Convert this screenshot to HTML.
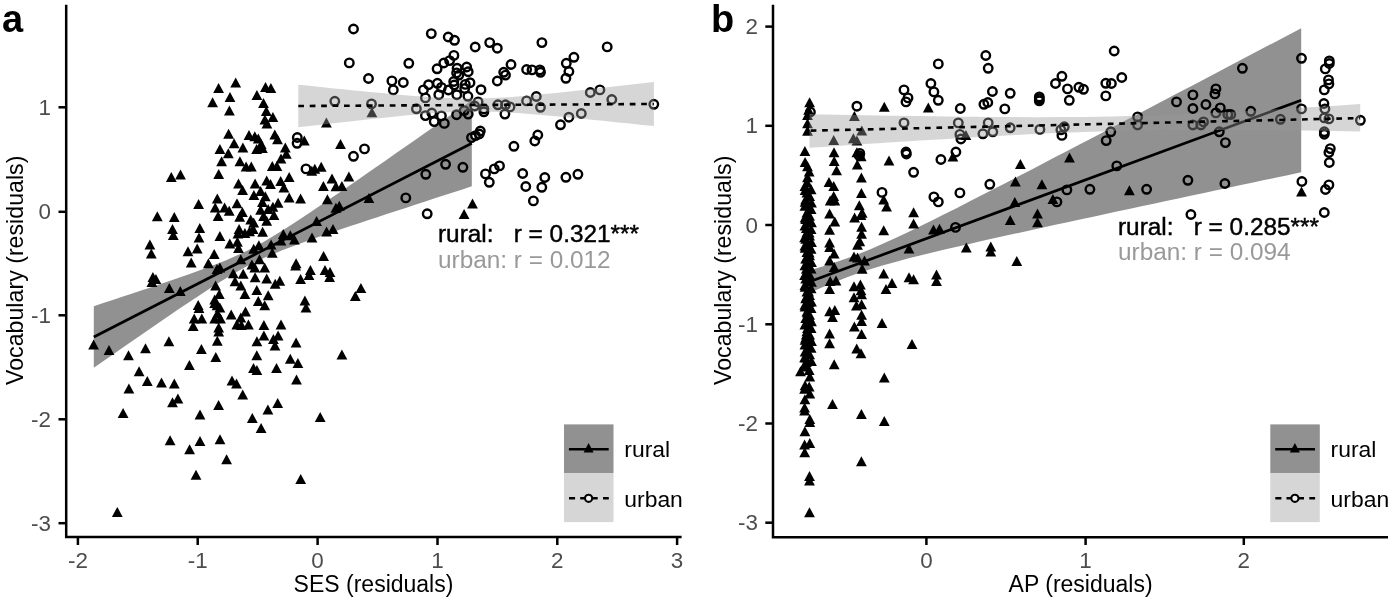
<!DOCTYPE html>
<html><head><meta charset="utf-8"><title>Figure</title>
<style>
html,body{margin:0;padding:0;background:#fff;}
body{width:1393px;height:601px;overflow:hidden;}
svg{display:block;}
text{font-family:"Liberation Sans", sans-serif;white-space:pre;}
svg{will-change:transform;}
.tk{font-size:22.4px;fill:#4d4d4d;}
.ti{font-size:23px;fill:#000;}
.lg{font-size:22.9px;fill:#000;}
.an{font-size:24.35px;}
.pl{font-size:38px;font-weight:bold;fill:#000;}
.ax{stroke:#000;stroke-width:2.5;fill:none;}
</style></head><body>
<svg width="1393" height="601" viewBox="0 0 1393 601">
<rect width="1393" height="601" fill="#fff"/>

<g id="panelA">
<g fill="#000"><path d="M171.3 172.0L176.7 182.0L165.9 182.0Z"/><path d="M180.5 169.4L185.9 179.4L175.1 179.4Z"/><path d="M198.6 198.9L204.0 208.9L193.2 208.9Z"/><path d="M157.3 211.3L162.7 221.3L151.9 221.3Z"/><path d="M174.3 211.9L179.7 221.9L168.9 221.9Z"/><path d="M172.5 223.9L177.9 233.9L167.1 233.9Z"/><path d="M173.3 229.9L178.7 239.9L167.9 239.9Z"/><path d="M199.8 222.9L205.2 232.9L194.4 232.9Z"/><path d="M199.0 232.5L204.4 242.5L193.6 242.5Z"/><path d="M149.9 239.5L155.3 249.5L144.5 249.5Z"/><path d="M151.3 248.5L156.7 258.5L145.9 258.5Z"/><path d="M197.2 243.5L202.6 253.5L191.8 253.5Z"/><path d="M188.0 246.3L193.4 256.3L182.6 256.3Z"/><path d="M191.2 257.5L196.6 267.5L185.8 267.5Z"/><path d="M208.4 258.3L213.8 268.3L203.0 268.3Z"/><path d="M214.2 248.9L219.6 258.9L208.8 258.9Z"/><path d="M152.9 272.0L158.3 282.0L147.5 282.0Z"/><path d="M155.9 274.0L161.3 284.0L150.5 284.0Z"/><path d="M151.9 277.0L157.3 287.0L146.5 287.0Z"/><path d="M169.3 283.0L174.7 293.0L163.9 293.0Z"/><path d="M180.3 286.0L185.7 296.0L174.9 296.0Z"/><path d="M198.2 299.9L203.6 309.9L192.8 309.9Z"/><path d="M199.0 302.9L204.4 312.9L193.6 312.9Z"/><path d="M194.2 313.5L199.6 323.5L188.8 323.5Z"/><path d="M201.8 313.5L207.2 323.5L196.4 323.5Z"/><path d="M193.2 320.9L198.6 330.9L187.8 330.9Z"/><path d="M93.6 339.5L99.0 349.5L88.2 349.5Z"/><path d="M109.0 344.9L114.4 354.9L103.6 354.9Z"/><path d="M128.5 350.3L133.9 360.3L123.1 360.3Z"/><path d="M145.5 343.3L150.9 353.3L140.1 353.3Z"/><path d="M168.9 336.3L174.3 346.3L163.5 346.3Z"/><path d="M201.4 343.9L206.8 353.9L196.0 353.9Z"/><path d="M189.4 359.9L194.8 369.9L184.0 369.9Z"/><path d="M139.1 366.2L144.5 376.2L133.7 376.2Z"/><path d="M147.3 376.0L152.7 386.0L141.9 386.0Z"/><path d="M161.5 377.6L166.9 387.6L156.1 387.6Z"/><path d="M174.3 378.6L179.7 388.6L168.9 388.6Z"/><path d="M128.9 383.6L134.3 393.6L123.5 393.6Z"/><path d="M177.9 393.5L183.3 403.5L172.5 403.5Z"/><path d="M172.5 397.3L177.9 407.3L167.1 407.3Z"/><path d="M123.1 407.9L128.5 417.9L117.7 417.9Z"/><path d="M200.0 409.5L205.4 419.5L194.6 419.5Z"/><path d="M170.1 435.3L175.5 445.3L164.7 445.3Z"/><path d="M200.0 435.9L205.4 445.9L194.6 445.9Z"/><path d="M189.6 444.3L195.0 454.3L184.2 454.3Z"/><path d="M196.0 469.8L201.4 479.8L190.6 479.8Z"/><path d="M117.3 506.9L122.7 516.9L111.9 516.9Z"/><path d="M218.6 83.0L224.0 93.0L213.2 93.0Z"/><path d="M235.7 77.4L241.1 87.4L230.3 87.4Z"/><path d="M212.6 97.3L218.0 107.3L207.2 107.3Z"/><path d="M230.0 91.9L235.4 101.9L224.6 101.9Z"/><path d="M229.4 105.5L234.8 115.5L224.0 115.5Z"/><path d="M265.5 82.0L270.9 92.0L260.1 92.0Z"/><path d="M270.9 83.0L276.3 93.0L265.5 93.0Z"/><path d="M256.9 90.0L262.3 100.0L251.5 100.0Z"/><path d="M263.5 97.9L268.9 107.9L258.1 107.9Z"/><path d="M266.3 105.9L271.7 115.9L260.9 115.9Z"/><path d="M272.9 111.9L278.3 121.9L267.5 121.9Z"/><path d="M264.9 114.5L270.3 124.5L259.5 124.5Z"/><path d="M266.9 118.5L272.3 128.5L261.5 128.5Z"/><path d="M314.8 163.8L320.2 173.8L309.4 173.8Z"/><path d="M321.2 161.8L326.6 171.8L315.8 171.8Z"/><path d="M311.8 165.8L317.2 175.8L306.4 175.8Z"/><path d="M326.4 117.5L331.8 127.5L321.0 127.5Z"/><path d="M228.6 128.7L234.0 138.7L223.2 138.7Z"/><path d="M234.1 138.3L239.5 148.3L228.7 148.3Z"/><path d="M219.9 144.1L225.3 154.1L214.5 154.1Z"/><path d="M228.3 148.2L233.7 158.2L222.9 158.2Z"/><path d="M221.6 156.3L227.0 166.3L216.2 166.3Z"/><path d="M218.7 169.1L224.1 179.1L213.3 179.1Z"/><path d="M242.9 142.6L248.3 152.6L237.5 152.6Z"/><path d="M249.0 130.1L254.4 140.1L243.6 140.1Z"/><path d="M254.8 131.3L260.2 141.3L249.4 141.3Z"/><path d="M258.3 133.6L263.7 143.6L252.9 143.6Z"/><path d="M261.2 138.9L266.6 148.9L255.8 148.9Z"/><path d="M256.6 144.1L262.0 154.1L251.2 154.1Z"/><path d="M262.4 142.9L267.8 152.9L257.0 152.9Z"/><path d="M239.9 156.3L245.3 166.3L234.5 166.3Z"/><path d="M246.1 161.6L251.5 171.6L240.7 171.6Z"/><path d="M251.3 161.6L256.7 171.6L245.9 171.6Z"/><path d="M274.8 129.6L280.2 139.6L269.4 139.6Z"/><path d="M277.5 134.2L282.9 144.2L272.1 144.2Z"/><path d="M285.3 142.4L290.7 152.4L279.9 152.4Z"/><path d="M286.3 148.8L291.7 158.8L280.9 158.8Z"/><path d="M281.0 153.4L286.4 163.4L275.6 163.4Z"/><path d="M272.3 161.0L277.7 171.0L266.9 171.0Z"/><path d="M276.9 161.0L282.3 171.0L271.5 171.0Z"/><path d="M238.5 178.4L243.9 188.4L233.1 188.4Z"/><path d="M255.1 178.4L260.5 188.4L249.7 188.4Z"/><path d="M266.7 175.5L272.1 185.5L261.3 185.5Z"/><path d="M270.5 179.0L275.9 189.0L265.1 189.0Z"/><path d="M280.7 176.1L286.1 186.1L275.3 186.1Z"/><path d="M289.2 172.0L294.6 182.0L283.8 182.0Z"/><path d="M304.3 135.4L309.7 145.4L298.9 145.4Z"/><path d="M283.9 182.6L289.3 192.6L278.5 192.6Z"/><path d="M242.6 184.9L248.0 194.9L237.2 194.9Z"/><path d="M253.9 190.1L259.3 200.1L248.5 200.1Z"/><path d="M260.6 186.1L266.0 196.1L255.2 196.1Z"/><path d="M265.3 191.3L270.7 201.3L259.9 201.3Z"/><path d="M289.2 192.5L294.6 202.5L283.8 202.5Z"/><path d="M300.6 193.6L306.0 203.6L295.2 203.6Z"/><path d="M217.3 193.6L222.7 203.6L211.9 203.6Z"/><path d="M215.2 202.4L220.6 212.4L209.8 212.4Z"/><path d="M224.6 202.4L230.0 212.4L219.2 212.4Z"/><path d="M229.2 205.8L234.6 215.8L223.8 215.8Z"/><path d="M218.1 211.1L223.5 221.1L212.7 221.1Z"/><path d="M237.0 198.3L242.4 208.3L231.6 208.3Z"/><path d="M242.4 207.0L247.8 217.0L237.0 217.0Z"/><path d="M239.7 211.7L245.1 221.7L234.3 221.7Z"/><path d="M262.4 197.1L267.8 207.1L257.0 207.1Z"/><path d="M278.1 197.7L283.5 207.7L272.7 207.7Z"/><path d="M272.9 201.8L278.3 211.8L267.5 211.8Z"/><path d="M260.6 204.7L266.0 214.7L255.2 214.7Z"/><path d="M268.2 204.1L273.6 214.1L262.8 214.1Z"/><path d="M274.0 209.9L279.4 219.9L268.6 219.9Z"/><path d="M263.6 211.1L269.0 221.1L258.2 221.1Z"/><path d="M266.7 215.7L272.1 225.7L261.3 225.7Z"/><path d="M250.7 214.6L256.1 224.6L245.3 224.6Z"/><path d="M253.7 217.5L259.1 227.5L248.3 227.5Z"/><path d="M239.1 223.9L244.5 233.9L233.7 233.9Z"/><path d="M237.9 228.6L243.3 238.6L232.5 238.6Z"/><path d="M244.9 228.0L250.3 238.0L239.5 238.0Z"/><path d="M249.6 226.2L255.0 236.2L244.2 236.2Z"/><path d="M253.1 223.9L258.5 233.9L247.7 233.9Z"/><path d="M262.6 226.8L268.0 236.8L257.2 236.8Z"/><path d="M219.9 230.9L225.3 240.9L214.5 240.9Z"/><path d="M229.8 238.4L235.2 248.4L224.4 248.4Z"/><path d="M237.4 236.7L242.8 246.7L232.0 246.7Z"/><path d="M283.3 229.1L288.7 239.1L277.9 239.1Z"/><path d="M290.3 230.3L295.7 240.3L284.9 240.3Z"/><path d="M294.4 234.4L299.8 244.4L289.0 244.4Z"/><path d="M281.0 235.5L286.4 245.5L275.6 245.5Z"/><path d="M271.1 239.6L276.5 249.6L265.7 249.6Z"/><path d="M258.9 240.2L264.3 250.2L253.5 250.2Z"/><path d="M238.5 243.1L243.9 253.1L233.1 253.1Z"/><path d="M253.7 243.7L259.1 253.7L248.3 253.7Z"/><path d="M272.3 247.8L277.7 257.8L266.9 257.8Z"/><path d="M240.8 254.2L246.2 264.2L235.4 264.2Z"/><path d="M259.5 254.2L264.9 264.2L254.1 264.2Z"/><path d="M251.9 259.4L257.3 269.4L246.5 269.4Z"/><path d="M254.8 262.4L260.2 272.4L249.4 272.4Z"/><path d="M264.7 262.4L270.1 272.4L259.3 272.4Z"/><path d="M217.0 264.1L222.4 274.1L211.6 274.1Z"/><path d="M219.9 262.4L225.3 272.4L214.5 272.4Z"/><path d="M233.3 268.2L238.7 278.2L227.9 278.2Z"/><path d="M243.2 268.8L248.6 278.8L237.8 278.8Z"/><path d="M255.1 272.3L260.5 282.3L249.7 282.3Z"/><path d="M266.7 273.4L272.1 283.4L261.3 283.4Z"/><path d="M235.0 276.3L240.4 286.3L229.6 286.3Z"/><path d="M240.8 280.4L246.2 290.4L235.4 290.4Z"/><path d="M296.1 258.3L301.5 268.3L290.7 268.3Z"/><path d="M295.6 260.6L301.0 270.6L290.2 270.6Z"/><path d="M300.6 274.0L306.0 284.0L295.2 284.0Z"/><path d="M275.2 278.7L280.6 288.7L269.8 288.7Z"/><path d="M279.8 275.7L285.2 285.7L274.4 285.7Z"/><path d="M215.6 280.4L221.0 290.4L210.2 290.4Z"/><path d="M219.3 289.1L224.7 299.1L213.9 299.1Z"/><path d="M214.7 294.4L220.1 304.4L209.3 304.4Z"/><path d="M217.0 300.2L222.4 310.2L211.6 310.2Z"/><path d="M256.8 285.1L262.2 295.1L251.4 295.1Z"/><path d="M244.9 289.1L250.3 299.1L239.5 299.1Z"/><path d="M268.2 290.3L273.6 300.3L262.8 300.3Z"/><path d="M258.3 296.1L263.7 306.1L252.9 306.1Z"/><path d="M264.7 300.2L270.1 310.2L259.3 310.2Z"/><path d="M304.9 295.5L310.3 305.5L299.5 305.5Z"/><path d="M306.0 302.6L311.4 312.6L300.6 312.6Z"/><path d="M214.7 297.9L220.1 307.9L209.3 307.9Z"/><path d="M219.9 302.6L225.3 312.6L214.5 312.6Z"/><path d="M217.6 308.4L223.0 318.4L212.2 318.4Z"/><path d="M214.7 313.6L220.1 323.6L209.3 323.6Z"/><path d="M220.5 313.6L225.9 323.6L215.1 323.6Z"/><path d="M231.2 309.6L236.6 319.6L225.8 319.6Z"/><path d="M245.5 306.6L250.9 316.6L240.1 316.6Z"/><path d="M240.8 312.5L246.2 322.5L235.4 322.5Z"/><path d="M236.8 319.4L242.2 329.4L231.4 329.4Z"/><path d="M241.4 320.0L246.8 330.0L236.0 330.0Z"/><path d="M248.4 319.4L253.8 329.4L243.0 329.4Z"/><path d="M218.7 322.4L224.1 332.4L213.3 332.4Z"/><path d="M218.7 326.4L224.1 336.4L213.3 336.4Z"/><path d="M263.9 320.0L269.3 330.0L258.5 330.0Z"/><path d="M281.0 319.4L286.4 329.4L275.6 329.4Z"/><path d="M263.9 330.5L269.3 340.5L258.5 340.5Z"/><path d="M278.1 330.5L283.5 340.5L272.7 340.5Z"/><path d="M273.4 334.0L278.8 344.0L268.0 344.0Z"/><path d="M256.9 336.3L262.3 346.3L251.5 346.3Z"/><path d="M275.0 340.4L280.4 350.4L269.6 350.4Z"/><path d="M217.3 335.7L222.7 345.7L211.9 345.7Z"/><path d="M296.1 337.5L301.5 347.5L290.7 347.5Z"/><path d="M215.8 352.0L221.2 362.0L210.4 362.0Z"/><path d="M256.8 350.3L262.2 360.3L251.4 360.3Z"/><path d="M290.3 353.8L295.7 363.8L284.9 363.8Z"/><path d="M297.9 357.9L303.3 367.9L292.5 367.9Z"/><path d="M253.5 363.0L258.9 373.0L248.1 373.0Z"/><path d="M256.9 365.0L262.3 375.0L251.5 375.0Z"/><path d="M276.5 363.0L281.9 373.0L271.1 373.0Z"/><path d="M296.5 374.4L301.9 384.4L291.1 384.4Z"/><path d="M232.0 375.6L237.4 385.6L226.6 385.6Z"/><path d="M236.5 378.6L241.9 388.6L231.1 388.6Z"/><path d="M242.7 389.4L248.1 399.4L237.3 399.4Z"/><path d="M218.6 399.9L224.0 409.9L213.2 409.9Z"/><path d="M277.7 397.9L283.1 407.9L272.3 407.9Z"/><path d="M267.9 404.5L273.3 414.5L262.5 414.5Z"/><path d="M252.3 412.9L257.7 422.9L246.9 422.9Z"/><path d="M261.1 422.9L266.5 432.9L255.7 432.9Z"/><path d="M320.2 411.9L325.6 421.9L314.8 421.9Z"/><path d="M220.0 434.3L225.4 444.3L214.6 444.3Z"/><path d="M226.6 454.3L232.0 464.3L221.2 464.3Z"/><path d="M300.7 473.9L306.1 483.9L295.3 483.9Z"/><path d="M371.9 107.2L377.3 117.2L366.5 117.2Z"/><path d="M340.5 138.9L345.9 148.9L335.1 148.9Z"/><path d="M332.0 173.5L337.4 183.5L326.6 183.5Z"/><path d="M348.9 171.5L354.3 181.5L343.5 181.5Z"/><path d="M323.4 180.9L328.8 190.9L318.0 190.9Z"/><path d="M335.9 181.3L341.3 191.3L330.5 191.3Z"/><path d="M341.9 180.9L347.3 190.9L336.5 190.9Z"/><path d="M327.4 194.3L332.8 204.3L322.0 204.3Z"/><path d="M368.9 192.9L374.3 202.9L363.5 202.9Z"/><path d="M335.9 202.8L341.3 212.8L330.5 212.8Z"/><path d="M339.3 200.8L344.7 210.8L333.9 210.8Z"/><path d="M316.6 216.0L322.0 226.0L311.2 226.0Z"/><path d="M326.6 226.6L332.0 236.6L321.2 236.6Z"/><path d="M333.0 224.0L338.4 234.0L327.6 234.0Z"/><path d="M312.0 232.5L317.4 242.5L306.6 242.5Z"/><path d="M323.6 250.9L329.0 260.9L318.2 260.9Z"/><path d="M310.4 264.9L315.8 274.9L305.0 274.9Z"/><path d="M309.0 269.9L314.4 279.9L303.6 279.9Z"/><path d="M325.0 264.9L330.4 274.9L319.6 274.9Z"/><path d="M330.0 266.9L335.4 276.9L324.6 276.9Z"/><path d="M329.6 271.9L335.0 281.9L324.2 281.9Z"/><path d="M360.9 282.9L366.3 292.9L355.5 292.9Z"/><path d="M355.3 290.9L360.7 300.9L349.9 300.9Z"/><path d="M341.9 349.5L347.3 359.5L336.5 359.5Z"/><path d="M472.5 198.5L477.9 208.5L467.1 208.5Z"/><path d="M464.1 208.9L469.5 218.9L458.7 218.9Z"/></g>
<g fill="none" stroke="#000" stroke-width="2.4"><circle cx="334.8" cy="101.3" r="4.25"/><circle cx="297.3" cy="137.5" r="4.25"/><circle cx="297.1" cy="143.3" r="4.25"/><circle cx="306.0" cy="168.9" r="4.25"/><circle cx="353.5" cy="29.0" r="4.25"/><circle cx="349.3" cy="62.9" r="4.25"/><circle cx="408.8" cy="63.3" r="4.25"/><circle cx="368.5" cy="78.5" r="4.25"/><circle cx="391.9" cy="80.9" r="4.25"/><circle cx="403.3" cy="82.5" r="4.25"/><circle cx="393.3" cy="89.9" r="4.25"/><circle cx="371.5" cy="103.9" r="4.25"/><circle cx="416.4" cy="108.8" r="4.25"/><circle cx="425.4" cy="97.9" r="4.25"/><circle cx="423.4" cy="89.9" r="4.25"/><circle cx="353.5" cy="156.3" r="4.25"/><circle cx="364.5" cy="148.9" r="4.25"/><circle cx="425.8" cy="174.3" r="4.25"/><circle cx="405.8" cy="197.9" r="4.25"/><circle cx="427.2" cy="213.8" r="4.25"/><circle cx="425.4" cy="115.6" r="4.25"/><circle cx="431.8" cy="113.0" r="4.25"/><circle cx="434.2" cy="121.6" r="4.25"/><circle cx="431.3" cy="33.6" r="4.25"/><circle cx="448.2" cy="37.0" r="4.25"/><circle cx="454.5" cy="40.3" r="4.25"/><circle cx="475.2" cy="47.0" r="4.25"/><circle cx="489.7" cy="42.6" r="4.25"/><circle cx="497.3" cy="48.2" r="4.25"/><circle cx="453.9" cy="55.4" r="4.25"/><circle cx="449.6" cy="60.6" r="4.25"/><circle cx="443.8" cy="63.0" r="4.25"/><circle cx="437.1" cy="68.8" r="4.25"/><circle cx="457.1" cy="68.2" r="4.25"/><circle cx="456.6" cy="72.9" r="4.25"/><circle cx="466.7" cy="67.0" r="4.25"/><circle cx="468.2" cy="71.7" r="4.25"/><circle cx="503.7" cy="72.3" r="4.25"/><circle cx="458.9" cy="75.1" r="4.25"/><circle cx="505.5" cy="75.1" r="4.25"/><circle cx="497.3" cy="81.0" r="4.25"/><circle cx="428.6" cy="84.7" r="4.25"/><circle cx="437.4" cy="83.3" r="4.25"/><circle cx="441.4" cy="87.4" r="4.25"/><circle cx="448.4" cy="90.0" r="4.25"/><circle cx="453.7" cy="81.5" r="4.25"/><circle cx="454.2" cy="85.0" r="4.25"/><circle cx="465.3" cy="84.4" r="4.25"/><circle cx="470.0" cy="82.7" r="4.25"/><circle cx="464.7" cy="88.5" r="4.25"/><circle cx="481.0" cy="89.7" r="4.25"/><circle cx="438.8" cy="94.7" r="4.25"/><circle cx="456.8" cy="94.7" r="4.25"/><circle cx="467.9" cy="96.3" r="4.25"/><circle cx="478.1" cy="101.9" r="4.25"/><circle cx="474.6" cy="106.0" r="4.25"/><circle cx="497.9" cy="104.8" r="4.25"/><circle cx="505.5" cy="104.8" r="4.25"/><circle cx="483.9" cy="108.9" r="4.25"/><circle cx="483.9" cy="111.8" r="4.25"/><circle cx="504.9" cy="114.1" r="4.25"/><circle cx="441.4" cy="115.9" r="4.25"/><circle cx="444.3" cy="123.4" r="4.25"/><circle cx="456.6" cy="114.7" r="4.25"/><circle cx="464.1" cy="110.6" r="4.25"/><circle cx="468.2" cy="114.1" r="4.25"/><circle cx="471.5" cy="137.6" r="4.25"/><circle cx="475.5" cy="135.6" r="4.25"/><circle cx="479.3" cy="134.0" r="4.25"/><circle cx="480.3" cy="131.0" r="4.25"/><circle cx="537.8" cy="135.0" r="4.25"/><circle cx="534.8" cy="141.0" r="4.25"/><circle cx="513.9" cy="146.3" r="4.25"/><circle cx="445.6" cy="164.3" r="4.25"/><circle cx="462.9" cy="167.3" r="4.25"/><circle cx="499.5" cy="165.9" r="4.25"/><circle cx="494.3" cy="168.9" r="4.25"/><circle cx="485.5" cy="173.9" r="4.25"/><circle cx="489.3" cy="182.3" r="4.25"/><circle cx="522.7" cy="173.5" r="4.25"/><circle cx="544.8" cy="177.5" r="4.25"/><circle cx="525.8" cy="186.5" r="4.25"/><circle cx="541.8" cy="187.3" r="4.25"/><circle cx="533.4" cy="200.9" r="4.25"/><circle cx="541.9" cy="42.6" r="4.25"/><circle cx="607.2" cy="46.9" r="4.25"/><circle cx="573.9" cy="57.3" r="4.25"/><circle cx="566.3" cy="63.3" r="4.25"/><circle cx="568.9" cy="71.5" r="4.25"/><circle cx="565.9" cy="78.3" r="4.25"/><circle cx="511.0" cy="64.5" r="4.25"/><circle cx="526.6" cy="69.5" r="4.25"/><circle cx="532.0" cy="69.9" r="4.25"/><circle cx="539.9" cy="69.9" r="4.25"/><circle cx="540.5" cy="72.3" r="4.25"/><circle cx="590.3" cy="92.5" r="4.25"/><circle cx="599.9" cy="89.9" r="4.25"/><circle cx="611.8" cy="99.5" r="4.25"/><circle cx="581.3" cy="113.5" r="4.25"/><circle cx="568.9" cy="117.2" r="4.25"/><circle cx="560.5" cy="124.8" r="4.25"/><circle cx="536.3" cy="96.5" r="4.25"/><circle cx="526.6" cy="100.9" r="4.25"/><circle cx="540.5" cy="107.3" r="4.25"/><circle cx="510.0" cy="106.9" r="4.25"/><circle cx="653.8" cy="104.3" r="4.25"/><circle cx="565.9" cy="177.3" r="4.25"/><circle cx="577.9" cy="174.3" r="4.25"/></g>
<path d="M93.8 306.2 L103.2 303.1 L112.7 299.9 L122.2 296.8 L131.6 293.7 L141.1 290.6 L150.5 287.4 L159.9 284.2 L169.4 281.0 L178.8 277.8 L188.3 274.4 L197.8 271.1 L207.2 267.6 L216.6 264.0 L226.1 260.2 L235.6 256.1 L245.0 251.7 L254.4 246.9 L263.9 241.7 L273.4 236.1 L282.8 230.2 L292.2 224.2 L301.7 218.0 L311.1 211.7 L320.6 205.3 L330.1 198.8 L339.5 192.4 L348.9 185.9 L358.4 179.4 L367.9 172.8 L377.3 166.3 L386.8 159.7 L396.2 153.1 L405.7 146.5 L415.1 139.9 L424.6 133.3 L434.0 126.7 L443.4 120.1 L452.9 113.5 L462.4 106.9 L471.8 100.3 L471.8 186.3 L462.4 189.4 L452.9 192.5 L443.4 195.5 L434.0 198.6 L424.6 201.7 L415.1 204.8 L405.7 207.9 L396.2 211.0 L386.8 214.1 L377.3 217.2 L367.9 220.3 L358.4 223.5 L348.9 226.6 L339.5 229.8 L330.1 233.0 L320.6 236.3 L311.1 239.6 L301.7 243.0 L292.2 246.5 L282.8 250.1 L273.4 253.9 L263.9 258.0 L254.4 262.5 L245.0 267.3 L235.6 272.6 L226.1 278.2 L216.6 284.1 L207.2 290.2 L197.8 296.4 L188.3 302.7 L178.8 309.1 L169.4 315.5 L159.9 322.0 L150.5 328.5 L141.1 335.0 L131.6 341.6 L122.2 348.1 L112.7 354.7 L103.2 361.3 L93.8 367.8Z" fill="#000" fill-opacity="0.43"/>
<path d="M93.8 337.0 L471.8 143.3" stroke="#000" stroke-width="2.7" fill="none"/>
<path d="M298.3 84.7 L307.2 85.6 L316.1 86.6 L325.0 87.5 L333.9 88.4 L342.8 89.3 L351.6 90.2 L360.5 91.1 L369.4 92.0 L378.3 92.8 L387.2 93.6 L396.1 94.4 L405.0 95.2 L413.9 95.9 L422.8 96.6 L431.6 97.2 L440.5 97.7 L449.4 98.1 L458.3 98.4 L467.2 98.5 L476.1 98.5 L485.0 98.3 L493.9 98.0 L502.8 97.5 L511.7 96.9 L520.5 96.2 L529.4 95.4 L538.3 94.6 L547.2 93.8 L556.1 92.9 L565.0 91.9 L573.9 91.0 L582.8 90.0 L591.7 89.0 L600.6 88.0 L609.5 87.0 L618.3 86.0 L627.2 85.0 L636.1 84.0 L645.0 82.9 L653.9 81.9 L653.9 126.1 L645.0 125.2 L636.1 124.2 L627.2 123.3 L618.3 122.4 L609.5 121.5 L600.6 120.6 L591.7 119.7 L582.8 118.8 L573.9 117.9 L565.0 117.1 L556.1 116.3 L547.2 115.5 L538.3 114.7 L529.4 114.0 L520.5 113.3 L511.7 112.7 L502.8 112.2 L493.9 111.8 L485.0 111.6 L476.1 111.5 L467.2 111.6 L458.3 111.8 L449.4 112.2 L440.5 112.7 L431.6 113.3 L422.8 114.0 L413.9 114.8 L405.0 115.6 L396.1 116.5 L387.2 117.4 L378.3 118.3 L369.4 119.2 L360.5 120.2 L351.6 121.2 L342.8 122.2 L333.9 123.2 L325.0 124.2 L316.1 125.2 L307.2 126.3 L298.3 127.3Z" fill="#999" fill-opacity="0.4"/>
<path d="M298.3 106 L653.9 104" stroke="#000" stroke-width="2.6" stroke-dasharray="5.7 5.73" fill="none"/>
<path class="ax" d="M66.2 4.8V537.1H681.6"/>
<path class="ax" d="M58.5 107.3H66.2"/><text class="tk" x="51" y="114.89999999999999" text-anchor="end">1</text>
<path class="ax" d="M58.5 211.8H66.2"/><text class="tk" x="51" y="219.4" text-anchor="end">0</text>
<path class="ax" d="M58.5 315.3H66.2"/><text class="tk" x="51" y="322.90000000000003" text-anchor="end">-1</text>
<path class="ax" d="M58.5 419.3H66.2"/><text class="tk" x="51" y="426.90000000000003" text-anchor="end">-2</text>
<path class="ax" d="M58.5 523.2H66.2"/><text class="tk" x="51" y="530.8000000000001" text-anchor="end">-3</text>
<path class="ax" d="M77.9 537.1V545"/><text class="tk" x="77.9" y="568" text-anchor="middle">-2</text>
<path class="ax" d="M197.7 537.1V545"/><text class="tk" x="197.7" y="568" text-anchor="middle">-1</text>
<path class="ax" d="M317.6 537.1V545"/><text class="tk" x="317.6" y="568" text-anchor="middle">0</text>
<path class="ax" d="M437.5 537.1V545"/><text class="tk" x="437.5" y="568" text-anchor="middle">1</text>
<path class="ax" d="M557.3 537.1V545"/><text class="tk" x="557.3" y="568" text-anchor="middle">2</text>
<path class="ax" d="M677.1 537.1V545"/><text class="tk" x="677.1" y="568" text-anchor="middle">3</text>
<text class="ti" x="373.5" y="592" text-anchor="middle">SES (residuals)</text>
<text class="ti" style="font-size:23.2px" transform="translate(23.4,270.3) rotate(-90)" text-anchor="middle">Vocabulary (residuals)</text>
<text class="pl" x="2" y="32">a</text>
<text class="an" x="438" y="242" fill="#000" stroke="#000" stroke-width="0.45" xml:space="preserve">rural:   r = 0.321***</text>
<text class="an" x="438" y="267.5" fill="#999" xml:space="preserve">urban: r = 0.012</text>
<rect x="564" y="424.4" width="49.5" height="48.9" fill="#919191"/><rect x="564" y="473.3" width="49.5" height="48.8" fill="#d6d6d6"/><path d="M568.9 449.2H608.7" stroke="#000" stroke-width="2.4"/><g fill="#000"><path d="M588.6 443.0L593.6 452.6L583.6 452.6Z"/></g><path d="M569 498.3h6.1m5.1 0h5m7.3 0h5.2m5.3 0h5.8" stroke="#000" stroke-width="2.4" fill="none"/><circle cx="588.6" cy="498.3" r="3.6" fill="#f0f0f0" stroke="#000" stroke-width="2.1"/><text class="lg" x="624.3" y="457">rural</text><text class="lg" x="624.3" y="506.8">urban</text>
</g>
<g id="panelB">
<g fill="#000"><path d="M809.6 97.2L815.0 107.2L804.2 107.2Z"/><path d="M808.6 104.8L814.0 114.8L803.2 114.8Z"/><path d="M807.5 110.0L812.9 120.0L802.1 120.0Z"/><path d="M807.5 118.2L812.9 128.2L802.1 128.2Z"/><path d="M807.5 125.8L812.9 135.8L802.1 135.8Z"/><path d="M884.3 101.8L889.7 111.8L878.9 111.8Z"/><path d="M854.4 111.1L859.8 121.1L849.0 121.1Z"/><path d="M861.8 125.6L867.2 135.6L856.4 135.6Z"/><path d="M833.7 135.0L839.1 145.0L828.3 145.0Z"/><path d="M853.4 133.2L858.8 143.2L848.0 143.2Z"/><path d="M856.9 135.5L862.3 145.5L851.5 145.5Z"/><path d="M804.9 146.1L810.3 156.1L799.5 156.1Z"/><path d="M805.1 157.1L810.5 167.1L799.7 167.1Z"/><path d="M807.5 161.2L812.9 171.2L802.1 171.2Z"/><path d="M809.2 166.4L814.6 176.4L803.8 176.4Z"/><path d="M807.5 172.3L812.9 182.3L802.1 182.3Z"/><path d="M807.2 177.5L812.6 187.5L801.8 187.5Z"/><path d="M805.1 185.1L810.5 195.1L799.7 195.1Z"/><path d="M809.2 190.9L814.6 200.9L803.8 200.9Z"/><path d="M805.1 196.7L810.5 206.7L799.7 206.7Z"/><path d="M809.2 203.7L814.6 213.7L803.8 213.7Z"/><path d="M834.0 147.2L839.4 157.2L828.6 157.2Z"/><path d="M834.2 156.0L839.6 166.0L828.8 166.0Z"/><path d="M836.6 165.3L842.0 175.3L831.2 175.3Z"/><path d="M829.0 176.9L834.4 186.9L823.6 186.9Z"/><path d="M833.7 181.0L839.1 191.0L828.3 191.0Z"/><path d="M833.7 190.9L839.1 200.9L828.3 200.9Z"/><path d="M830.2 195.5L835.6 205.5L824.8 205.5Z"/><path d="M834.8 195.5L840.2 205.5L829.4 205.5Z"/><path d="M856.9 147.2L862.3 157.2L851.5 157.2Z"/><path d="M861.2 151.3L866.6 161.3L855.8 161.3Z"/><path d="M857.3 159.4L862.7 169.4L851.9 169.4Z"/><path d="M861.4 172.6L866.8 182.6L856.0 182.6Z"/><path d="M861.4 188.0L866.8 198.0L856.0 198.0Z"/><path d="M859.3 200.2L864.7 210.2L853.9 210.2Z"/><path d="M883.7 194.4L889.1 204.4L878.3 204.4Z"/><path d="M805.1 212.5L810.5 222.5L799.7 222.5Z"/><path d="M809.2 217.1L814.6 227.1L803.8 227.1Z"/><path d="M806.3 222.9L811.7 232.9L800.9 232.9Z"/><path d="M809.2 227.6L814.6 237.6L803.8 237.6Z"/><path d="M804.6 232.3L810.0 242.3L799.2 242.3Z"/><path d="M807.5 238.1L812.9 248.1L802.1 248.1Z"/><path d="M805.1 242.7L810.5 252.7L799.7 252.7Z"/><path d="M809.2 247.4L814.6 257.4L803.8 257.4Z"/><path d="M806.3 253.2L811.7 263.2L800.9 263.2Z"/><path d="M807.5 259.0L812.9 269.0L802.1 269.0Z"/><path d="M806.3 263.7L811.7 273.7L800.9 273.7Z"/><path d="M829.6 208.4L835.0 218.4L824.2 218.4Z"/><path d="M834.8 216.5L840.2 226.5L829.4 226.5Z"/><path d="M829.6 224.7L835.0 234.7L824.2 234.7Z"/><path d="M829.6 237.5L835.0 247.5L824.2 247.5Z"/><path d="M829.6 242.1L835.0 252.1L824.2 252.1Z"/><path d="M834.2 248.6L839.6 258.6L828.8 258.6Z"/><path d="M829.6 255.5L835.0 265.5L824.2 265.5Z"/><path d="M834.2 261.9L839.6 271.9L828.8 271.9Z"/><path d="M862.2 207.8L867.6 217.8L856.8 217.8Z"/><path d="M854.6 212.5L860.0 222.5L849.2 222.5Z"/><path d="M861.0 210.1L866.4 220.1L855.6 220.1Z"/><path d="M861.6 221.8L867.0 231.8L856.2 231.8Z"/><path d="M861.6 228.8L867.0 238.8L856.2 238.8Z"/><path d="M859.8 236.3L865.2 246.3L854.4 246.3Z"/><path d="M857.5 239.8L862.9 249.8L852.1 249.8Z"/><path d="M854.0 251.5L859.4 261.5L848.6 261.5Z"/><path d="M857.5 252.6L862.9 262.6L852.1 262.6Z"/><path d="M864.5 255.5L869.9 265.5L859.1 265.5Z"/><path d="M862.2 263.7L867.6 273.7L856.8 273.7Z"/><path d="M883.7 225.3L889.1 235.3L878.3 235.3Z"/><path d="M886.6 201.4L892.0 211.4L881.2 211.4Z"/><path d="M809.2 263.1L814.6 273.1L803.8 273.1Z"/><path d="M804.6 270.1L810.0 280.1L799.2 280.1Z"/><path d="M809.2 269.0L814.6 279.0L803.8 279.0Z"/><path d="M807.5 276.0L812.9 286.0L802.1 286.0Z"/><path d="M805.1 281.8L810.5 291.8L799.7 291.8Z"/><path d="M808.6 286.4L814.0 296.4L803.2 296.4Z"/><path d="M806.3 292.3L811.7 302.3L800.9 302.3Z"/><path d="M809.2 296.9L814.6 306.9L803.8 306.9Z"/><path d="M805.1 301.6L810.5 311.6L799.7 311.6Z"/><path d="M807.5 307.4L812.9 317.4L802.1 317.4Z"/><path d="M809.2 312.0L814.6 322.0L803.8 322.0Z"/><path d="M806.3 317.9L811.7 327.9L800.9 327.9Z"/><path d="M807.5 323.1L812.9 333.1L802.1 333.1Z"/><path d="M830.2 276.0L835.6 286.0L824.8 286.0Z"/><path d="M836.0 275.4L841.4 285.4L830.6 285.4Z"/><path d="M829.6 284.1L835.0 294.1L824.2 294.1Z"/><path d="M829.6 306.2L835.0 316.2L824.2 316.2Z"/><path d="M834.8 305.1L840.2 315.1L829.4 315.1Z"/><path d="M832.5 312.0L837.9 322.0L827.1 322.0Z"/><path d="M854.0 281.2L859.4 291.2L848.6 291.2Z"/><path d="M860.4 279.4L865.8 289.4L855.0 289.4Z"/><path d="M861.0 285.3L866.4 295.3L855.6 295.3Z"/><path d="M854.0 292.3L859.4 302.3L848.6 302.3Z"/><path d="M861.6 289.3L867.0 299.3L856.2 299.3Z"/><path d="M856.4 300.4L861.8 310.4L851.0 310.4Z"/><path d="M861.6 299.2L867.0 309.2L856.2 309.2Z"/><path d="M861.6 309.7L867.0 319.7L856.2 319.7Z"/><path d="M861.6 316.1L867.0 326.1L856.2 326.1Z"/><path d="M854.4 321.4L859.8 331.4L849.0 331.4Z"/><path d="M883.7 268.4L889.1 278.4L878.3 278.4Z"/><path d="M886.0 284.1L891.4 294.1L880.6 294.1Z"/><path d="M882.0 317.9L887.4 327.9L876.6 327.9Z"/><path d="M806.3 329.6L811.7 339.6L800.9 339.6Z"/><path d="M809.2 331.3L814.6 341.3L803.8 341.3Z"/><path d="M805.1 334.8L810.5 344.8L799.7 344.8Z"/><path d="M809.2 341.8L814.6 351.8L803.8 351.8Z"/><path d="M805.1 346.4L810.5 356.4L799.7 356.4Z"/><path d="M804.6 352.3L810.0 362.3L799.2 362.3Z"/><path d="M806.3 356.9L811.7 366.9L800.9 366.9Z"/><path d="M805.1 361.6L810.5 371.6L799.7 371.6Z"/><path d="M800.5 366.2L805.9 376.2L795.1 376.2Z"/><path d="M809.2 365.1L814.6 375.1L803.8 375.1Z"/><path d="M809.8 371.5L815.2 381.5L804.4 381.5Z"/><path d="M805.1 380.2L810.5 390.2L799.7 390.2Z"/><path d="M809.2 381.4L814.6 391.4L803.8 391.4Z"/><path d="M829.6 328.4L835.0 338.4L824.2 338.4Z"/><path d="M829.6 338.3L835.0 348.3L824.2 348.3Z"/><path d="M834.2 359.2L839.6 369.2L828.8 369.2Z"/><path d="M861.6 329.0L867.0 339.0L856.2 339.0Z"/><path d="M856.7 343.5L862.1 353.5L851.3 353.5Z"/><path d="M861.0 348.2L866.4 358.2L855.6 358.2Z"/><path d="M884.3 372.6L889.7 382.6L878.9 382.6Z"/><path d="M804.6 383.7L810.0 393.7L799.2 393.7Z"/><path d="M809.8 388.4L815.2 398.4L804.4 398.4Z"/><path d="M804.9 394.2L810.3 404.2L799.5 404.2Z"/><path d="M804.6 402.4L810.0 412.4L799.2 412.4Z"/><path d="M804.6 405.5L810.0 415.5L799.2 415.5Z"/><path d="M809.8 414.0L815.2 424.0L804.4 424.0Z"/><path d="M809.8 417.1L815.2 427.1L804.4 427.1Z"/><path d="M804.9 426.2L810.3 436.2L799.5 436.2Z"/><path d="M804.6 439.6L810.0 449.6L799.2 449.6Z"/><path d="M809.8 437.9L815.2 447.9L804.4 447.9Z"/><path d="M832.5 398.9L837.9 408.9L827.1 408.9Z"/><path d="M861.4 409.1L866.8 419.1L856.0 419.1Z"/><path d="M884.3 416.1L889.7 426.1L878.9 426.1Z"/><path d="M804.7 447.3L810.1 457.3L799.3 457.3Z"/><path d="M809.5 470.9L814.9 480.9L804.1 480.9Z"/><path d="M809.5 475.4L814.9 485.4L804.1 485.4Z"/><path d="M809.5 507.2L814.9 517.2L804.1 517.2Z"/><path d="M861.4 456.3L866.8 466.3L856.0 466.3Z"/><path d="M928.3 102.5L933.7 112.5L922.9 112.5Z"/><path d="M965.9 130.0L971.3 140.0L960.5 140.0Z"/><path d="M889.0 155.5L894.4 165.5L883.6 165.5Z"/><path d="M952.9 151.5L958.3 161.5L947.5 161.5Z"/><path d="M913.6 207.3L919.0 217.3L908.2 217.3Z"/><path d="M913.6 218.5L919.0 228.5L908.2 228.5Z"/><path d="M933.5 224.4L938.9 234.4L928.1 234.4Z"/><path d="M939.5 223.8L944.9 233.8L934.1 233.8Z"/><path d="M1010.2 214.9L1015.6 224.9L1004.8 224.9Z"/><path d="M1014.8 196.9L1020.2 206.9L1009.4 206.9Z"/><path d="M1015.4 176.5L1020.8 186.5L1010.0 186.5Z"/><path d="M909.0 243.6L914.4 253.6L903.6 253.6Z"/><path d="M966.3 242.6L971.7 252.6L960.9 252.6Z"/><path d="M990.8 241.6L996.2 251.6L985.4 251.6Z"/><path d="M990.8 246.6L996.2 256.6L985.4 256.6Z"/><path d="M1016.8 255.9L1022.2 265.9L1011.4 265.9Z"/><path d="M909.0 272.3L914.4 282.3L903.6 282.3Z"/><path d="M913.6 274.3L919.0 284.3L908.2 284.3Z"/><path d="M936.5 269.5L941.9 279.5L931.1 279.5Z"/><path d="M936.5 275.9L941.9 285.9L931.1 285.9Z"/><path d="M892.0 277.9L897.4 287.9L886.6 287.9Z"/><path d="M912.0 338.9L917.4 348.9L906.6 348.9Z"/><path d="M1020.4 158.9L1025.8 168.9L1015.0 168.9Z"/><path d="M1069.5 152.5L1074.9 162.5L1064.1 162.5Z"/><path d="M1041.9 179.3L1047.3 189.3L1036.5 189.3Z"/><path d="M1052.9 193.9L1058.3 203.9L1047.5 203.9Z"/><path d="M1129.4 185.3L1134.8 195.3L1124.0 195.3Z"/><path d="M1037.5 208.5L1042.9 218.5L1032.1 218.5Z"/><path d="M1037.5 217.3L1042.9 227.3L1032.1 227.3Z"/><path d="M1301.5 186.5L1306.9 196.5L1296.1 196.5Z"/><path d="M804.9 181.0L810.3 191.0L799.5 191.0Z"/><path d="M811.1 184.3L816.5 194.3L805.7 194.3Z"/><path d="M806.9 187.6L812.3 197.6L801.5 197.6Z"/><path d="M809.6 190.9L815.0 200.9L804.2 200.9Z"/><path d="M805.7 194.2L811.1 204.2L800.3 204.2Z"/><path d="M811.5 197.5L816.9 207.5L806.1 207.5Z"/><path d="M804.9 200.8L810.3 210.8L799.5 210.8Z"/><path d="M811.1 204.1L816.5 214.1L805.7 214.1Z"/><path d="M806.9 207.4L812.3 217.4L801.5 217.4Z"/><path d="M809.6 210.7L815.0 220.7L804.2 220.7Z"/><path d="M805.7 214.0L811.1 224.0L800.3 224.0Z"/><path d="M811.5 217.3L816.9 227.3L806.1 227.3Z"/><path d="M804.9 220.6L810.3 230.6L799.5 230.6Z"/><path d="M811.1 223.9L816.5 233.9L805.7 233.9Z"/><path d="M806.9 227.2L812.3 237.2L801.5 237.2Z"/><path d="M809.6 230.5L815.0 240.5L804.2 240.5Z"/><path d="M805.7 233.8L811.1 243.8L800.3 243.8Z"/><path d="M811.5 237.1L816.9 247.1L806.1 247.1Z"/><path d="M804.9 240.4L810.3 250.4L799.5 250.4Z"/><path d="M811.1 243.7L816.5 253.7L805.7 253.7Z"/><path d="M806.9 247.0L812.3 257.0L801.5 257.0Z"/><path d="M809.6 250.3L815.0 260.3L804.2 260.3Z"/><path d="M805.7 253.6L811.1 263.6L800.3 263.6Z"/><path d="M811.5 256.9L816.9 266.9L806.1 266.9Z"/><path d="M804.9 260.2L810.3 270.2L799.5 270.2Z"/><path d="M811.1 263.5L816.5 273.5L805.7 273.5Z"/><path d="M806.9 266.8L812.3 276.8L801.5 276.8Z"/><path d="M809.6 270.1L815.0 280.1L804.2 280.1Z"/><path d="M805.7 273.4L811.1 283.4L800.3 283.4Z"/><path d="M811.5 276.7L816.9 286.7L806.1 286.7Z"/><path d="M804.9 280.0L810.3 290.0L799.5 290.0Z"/><path d="M811.1 283.3L816.5 293.3L805.7 293.3Z"/><path d="M806.9 286.6L812.3 296.6L801.5 296.6Z"/><path d="M809.6 289.9L815.0 299.9L804.2 299.9Z"/><path d="M805.7 293.2L811.1 303.2L800.3 303.2Z"/><path d="M811.5 296.5L816.9 306.5L806.1 306.5Z"/><path d="M804.9 299.8L810.3 309.8L799.5 309.8Z"/><path d="M811.1 303.1L816.5 313.1L805.7 313.1Z"/><path d="M806.9 306.4L812.3 316.4L801.5 316.4Z"/><path d="M809.6 309.7L815.0 319.7L804.2 319.7Z"/><path d="M805.7 313.0L811.1 323.0L800.3 323.0Z"/><path d="M811.5 316.3L816.9 326.3L806.1 326.3Z"/><path d="M804.9 319.6L810.3 329.6L799.5 329.6Z"/><path d="M811.1 322.9L816.5 332.9L805.7 332.9Z"/><path d="M806.9 326.2L812.3 336.2L801.5 336.2Z"/><path d="M809.6 329.5L815.0 339.5L804.2 339.5Z"/><path d="M805.7 332.8L811.1 342.8L800.3 342.8Z"/><path d="M811.5 336.1L816.9 346.1L806.1 346.1Z"/><path d="M804.9 339.4L810.3 349.4L799.5 349.4Z"/><path d="M811.1 342.7L816.5 352.7L805.7 352.7Z"/><path d="M806.9 346.0L812.3 356.0L801.5 356.0Z"/><path d="M809.6 349.3L815.0 359.3L804.2 359.3Z"/><path d="M805.7 352.6L811.1 362.6L800.3 362.6Z"/><path d="M811.5 355.9L816.9 365.9L806.1 365.9Z"/><path d="M804.9 359.2L810.3 369.2L799.5 369.2Z"/></g>
<g fill="none" stroke="#000" stroke-width="2.4"><circle cx="856.9" cy="106.2" r="4.25"/><circle cx="810.4" cy="112.0" r="4.25"/><circle cx="859.8" cy="153.4" r="4.25"/><circle cx="859.3" cy="155.7" r="4.25"/><circle cx="882.0" cy="192.4" r="4.25"/><circle cx="985.8" cy="55.5" r="4.25"/><circle cx="988.2" cy="68.3" r="4.25"/><circle cx="938.3" cy="63.9" r="4.25"/><circle cx="930.9" cy="83.5" r="4.25"/><circle cx="933.9" cy="91.9" r="4.25"/><circle cx="938.3" cy="100.3" r="4.25"/><circle cx="904.0" cy="89.9" r="4.25"/><circle cx="908.0" cy="97.9" r="4.25"/><circle cx="906.0" cy="101.9" r="4.25"/><circle cx="992.4" cy="91.5" r="4.25"/><circle cx="1010.2" cy="93.3" r="4.25"/><circle cx="960.3" cy="108.5" r="4.25"/><circle cx="983.9" cy="104.3" r="4.25"/><circle cx="987.8" cy="102.5" r="4.25"/><circle cx="1004.8" cy="108.9" r="4.25"/><circle cx="904.0" cy="122.9" r="4.25"/><circle cx="958.3" cy="122.9" r="4.25"/><circle cx="988.2" cy="122.9" r="4.25"/><circle cx="1010.2" cy="127.8" r="4.25"/><circle cx="982.9" cy="133.8" r="4.25"/><circle cx="992.8" cy="131.8" r="4.25"/><circle cx="959.9" cy="134.4" r="4.25"/><circle cx="960.9" cy="139.0" r="4.25"/><circle cx="906.0" cy="152.0" r="4.25"/><circle cx="906.4" cy="154.0" r="4.25"/><circle cx="955.9" cy="152.0" r="4.25"/><circle cx="940.9" cy="159.5" r="4.25"/><circle cx="913.6" cy="172.3" r="4.25"/><circle cx="989.8" cy="184.3" r="4.25"/><circle cx="959.9" cy="192.9" r="4.25"/><circle cx="933.9" cy="196.9" r="4.25"/><circle cx="938.3" cy="201.9" r="4.25"/><circle cx="955.5" cy="227.4" r="4.25"/><circle cx="1114.2" cy="51.0" r="4.25"/><circle cx="1121.8" cy="77.5" r="4.25"/><circle cx="1061.9" cy="76.3" r="4.25"/><circle cx="1055.5" cy="83.5" r="4.25"/><circle cx="1067.5" cy="88.9" r="4.25"/><circle cx="1078.9" cy="87.3" r="4.25"/><circle cx="1083.5" cy="89.3" r="4.25"/><circle cx="1105.8" cy="83.3" r="4.25"/><circle cx="1111.4" cy="83.5" r="4.25"/><circle cx="1105.8" cy="95.9" r="4.25"/><circle cx="1069.3" cy="100.3" r="4.25"/><circle cx="1039.3" cy="96.9" r="4.25"/><circle cx="1039.3" cy="98.9" r="4.25"/><circle cx="1039.3" cy="100.9" r="4.25"/><circle cx="1039.9" cy="129.4" r="4.25"/><circle cx="1064.3" cy="126.8" r="4.25"/><circle cx="1060.9" cy="129.8" r="4.25"/><circle cx="1061.9" cy="135.4" r="4.25"/><circle cx="1110.8" cy="131.8" r="4.25"/><circle cx="1106.2" cy="140.6" r="4.25"/><circle cx="1116.8" cy="165.9" r="4.25"/><circle cx="1066.9" cy="189.9" r="4.25"/><circle cx="1089.9" cy="189.3" r="4.25"/><circle cx="1056.9" cy="201.9" r="4.25"/><circle cx="1242.4" cy="68.3" r="4.25"/><circle cx="1215.9" cy="88.9" r="4.25"/><circle cx="1214.9" cy="93.9" r="4.25"/><circle cx="1192.9" cy="94.9" r="4.25"/><circle cx="1176.5" cy="101.9" r="4.25"/><circle cx="1205.9" cy="104.5" r="4.25"/><circle cx="1192.9" cy="108.5" r="4.25"/><circle cx="1220.3" cy="107.9" r="4.25"/><circle cx="1215.9" cy="112.9" r="4.25"/><circle cx="1227.8" cy="114.5" r="4.25"/><circle cx="1230.8" cy="114.5" r="4.25"/><circle cx="1250.8" cy="111.3" r="4.25"/><circle cx="1137.6" cy="116.9" r="4.25"/><circle cx="1137.6" cy="124.9" r="4.25"/><circle cx="1192.9" cy="124.9" r="4.25"/><circle cx="1200.9" cy="124.9" r="4.25"/><circle cx="1203.5" cy="121.9" r="4.25"/><circle cx="1219.3" cy="131.8" r="4.25"/><circle cx="1225.4" cy="142.6" r="4.25"/><circle cx="1187.9" cy="180.3" r="4.25"/><circle cx="1146.6" cy="189.3" r="4.25"/><circle cx="1224.9" cy="183.5" r="4.25"/><circle cx="1190.9" cy="214.5" r="4.25"/><circle cx="1301.5" cy="58.3" r="4.25"/><circle cx="1301.5" cy="108.9" r="4.25"/><circle cx="1280.4" cy="119.3" r="4.25"/><circle cx="1329.3" cy="60.9" r="4.25"/><circle cx="1329.3" cy="63.5" r="4.25"/><circle cx="1325.3" cy="68.9" r="4.25"/><circle cx="1328.5" cy="79.9" r="4.25"/><circle cx="1328.9" cy="83.9" r="4.25"/><circle cx="1324.3" cy="89.9" r="4.25"/><circle cx="1323.9" cy="103.5" r="4.25"/><circle cx="1324.9" cy="108.9" r="4.25"/><circle cx="1324.3" cy="117.9" r="4.25"/><circle cx="1328.9" cy="118.9" r="4.25"/><circle cx="1324.3" cy="131.8" r="4.25"/><circle cx="1324.3" cy="134.2" r="4.25"/><circle cx="1360.4" cy="120.3" r="4.25"/><circle cx="1330.3" cy="148.6" r="4.25"/><circle cx="1328.9" cy="152.4" r="4.25"/><circle cx="1329.3" cy="162.5" r="4.25"/><circle cx="1301.9" cy="181.5" r="4.25"/><circle cx="1328.9" cy="184.9" r="4.25"/><circle cx="1325.5" cy="189.5" r="4.25"/><circle cx="1324.3" cy="212.5" r="4.25"/></g>
<path d="M809.5 270.3 L821.8 266.7 L834.1 262.8 L846.4 258.6 L858.7 254.0 L871.0 249.0 L883.3 243.6 L895.5 238.0 L907.8 232.2 L920.1 226.3 L932.4 220.2 L944.7 214.1 L957.0 207.9 L969.3 201.6 L981.6 195.3 L993.9 189.0 L1006.2 182.7 L1018.5 176.3 L1030.8 169.9 L1043.1 163.5 L1055.3 157.1 L1067.6 150.7 L1079.9 144.3 L1092.2 137.9 L1104.5 131.5 L1116.8 125.0 L1129.1 118.6 L1141.4 112.2 L1153.7 105.7 L1166.0 99.3 L1178.3 92.8 L1190.6 86.4 L1202.9 79.9 L1215.2 73.5 L1227.4 67.0 L1239.7 60.5 L1252.0 54.1 L1264.3 47.6 L1276.6 41.2 L1288.9 34.7 L1301.2 28.2 L1301.2 172.3 L1288.9 174.9 L1276.6 177.5 L1264.3 180.1 L1252.0 182.7 L1239.7 185.3 L1227.4 188.0 L1215.2 190.6 L1202.9 193.2 L1190.6 195.8 L1178.3 198.4 L1166.0 201.1 L1153.7 203.7 L1141.4 206.3 L1129.1 208.9 L1116.8 211.6 L1104.5 214.2 L1092.2 216.9 L1079.9 219.5 L1067.6 222.2 L1055.3 224.8 L1043.1 227.5 L1030.8 230.2 L1018.5 232.9 L1006.2 235.6 L993.9 238.3 L981.6 241.1 L969.3 243.9 L957.0 246.7 L944.7 249.5 L932.4 252.5 L920.1 255.5 L907.8 258.6 L895.5 261.9 L883.3 265.3 L871.0 269.1 L858.7 273.1 L846.4 277.6 L834.1 282.4 L821.8 287.6 L809.5 293.1Z" fill="#000" fill-opacity="0.43"/>
<path d="M809.5 281.7 L1301.2 100.3" stroke="#000" stroke-width="2.7" fill="none"/>
<path d="M809.5 114.2 L823.3 114.5 L837.0 114.7 L850.8 115.0 L864.6 115.2 L878.3 115.5 L892.1 115.7 L905.9 115.9 L919.6 116.1 L933.4 116.3 L947.2 116.5 L960.9 116.7 L974.7 116.8 L988.5 117.0 L1002.2 117.1 L1016.0 117.1 L1029.8 117.2 L1043.5 117.2 L1057.3 117.1 L1071.1 117.0 L1084.8 116.9 L1098.6 116.7 L1112.4 116.4 L1126.2 116.1 L1139.9 115.7 L1153.7 115.3 L1167.5 114.8 L1181.2 114.3 L1195.0 113.7 L1208.8 113.0 L1222.5 112.3 L1236.3 111.6 L1250.1 110.9 L1263.8 110.1 L1277.6 109.3 L1291.4 108.5 L1305.1 107.6 L1318.9 106.8 L1332.7 105.9 L1346.4 105.0 L1360.2 104.1 L1360.2 131.5 L1346.4 131.2 L1332.7 131.0 L1318.9 130.8 L1305.1 130.6 L1291.4 130.4 L1277.6 130.3 L1263.8 130.1 L1250.1 130.0 L1236.3 129.9 L1222.5 129.9 L1208.8 129.8 L1195.0 129.9 L1181.2 129.9 L1167.5 130.0 L1153.7 130.2 L1139.9 130.4 L1126.2 130.7 L1112.4 131.0 L1098.6 131.4 L1084.8 131.9 L1071.1 132.4 L1057.3 133.0 L1043.5 133.6 L1029.8 134.3 L1016.0 135.0 L1002.2 135.7 L988.5 136.5 L974.7 137.2 L960.9 138.0 L947.2 138.9 L933.4 139.7 L919.6 140.6 L905.9 141.4 L892.1 142.3 L878.3 143.2 L864.6 144.1 L850.8 145.0 L837.0 146.0 L823.3 146.9 L809.5 147.8Z" fill="#999" fill-opacity="0.4"/>
<path d="M809.5 130.7 L1360.2 118.1" stroke="#000" stroke-width="2.6" stroke-dasharray="5.7 5.73" stroke-dashoffset="-1.2" fill="none"/>
<path class="ax" d="M773 4.8V537.2H1388"/>
<path class="ax" d="M765.3 26.6H773"/><text class="tk" x="758" y="34.2" text-anchor="end">2</text>
<path class="ax" d="M765.3 125.8H773"/><text class="tk" x="758" y="133.4" text-anchor="end">1</text>
<path class="ax" d="M765.3 225.0H773"/><text class="tk" x="758" y="232.6" text-anchor="end">0</text>
<path class="ax" d="M765.3 324.3H773"/><text class="tk" x="758" y="331.90000000000003" text-anchor="end">-1</text>
<path class="ax" d="M765.3 423.5H773"/><text class="tk" x="758" y="431.1" text-anchor="end">-2</text>
<path class="ax" d="M765.3 522.7H773"/><text class="tk" x="758" y="530.3000000000001" text-anchor="end">-3</text>
<path class="ax" d="M926.4 537.2V545"/><text class="tk" x="926.4" y="568" text-anchor="middle">0</text>
<path class="ax" d="M1085.6 537.2V545"/><text class="tk" x="1085.6" y="568" text-anchor="middle">1</text>
<path class="ax" d="M1243.8 537.2V545"/><text class="tk" x="1243.8" y="568" text-anchor="middle">2</text>
<text class="ti" x="1080.6" y="592" text-anchor="middle">AP (residuals)</text>
<text class="ti" style="font-size:23.2px" transform="translate(730.5,270.3) rotate(-90)" text-anchor="middle">Vocabulary (residuals)</text>
<text class="pl" x="711" y="32">b</text>
<text class="an" x="1118" y="234.5" fill="#000" stroke="#000" stroke-width="0.45" xml:space="preserve">rural:   r = 0.285***</text>
<text class="an" x="1118" y="259.8" fill="#999" xml:space="preserve">urban: r = 0.094</text>
<rect x="1270.3" y="424.4" width="49.5" height="48.9" fill="#919191"/><rect x="1270.3" y="473.3" width="49.5" height="48.8" fill="#d6d6d6"/><path d="M1275.2 449.2H1315.0" stroke="#000" stroke-width="2.4"/><g fill="#000"><path d="M1294.9 443.0L1299.9 452.6L1289.8 452.6Z"/></g><path d="M1275.3 498.3h6.1m5.1 0h5m7.3 0h5.2m5.3 0h5.8" stroke="#000" stroke-width="2.4" fill="none"/><circle cx="1294.8999999999999" cy="498.3" r="3.6" fill="#f0f0f0" stroke="#000" stroke-width="2.1"/><text class="lg" x="1330.6" y="457">rural</text><text class="lg" x="1330.6" y="506.8">urban</text>
</g>
</svg></body></html>
